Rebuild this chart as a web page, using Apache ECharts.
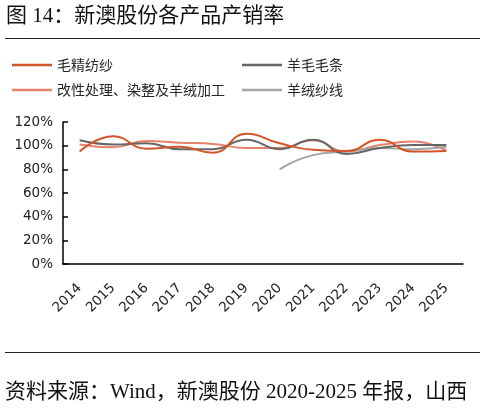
<!DOCTYPE html>
<html><head><meta charset="utf-8">
<script src="https://cdn.jsdelivr.net/npm/echarts@6/dist/echarts.min.js"></script>
<style>html,body{margin:0;padding:0;background:#fff}#c{width:485px;height:408px}</style>
</head><body><div id="c"></div>
<script>
var titleText = '图 14：新澳股份各产品产销率';
var sourceText = '资料来源：Wind，新澳股份 2020-2025 年报，山西';
var years = ['2014','2015','2016','2017','2018','2019','2020','2021','2022','2023','2024','2025'];
var seriesNames = ['毛精纺纱','羊毛毛条','改性处理、染整及羊绒加工','羊绒纱线'];
var maoJingFangSha = [95, 108, 97.5, 99, 94, 110, 102, 96.5, 95.5, 105, 95, 95.5];
var yangMaoMaoTiao = [104.5, 101, 102, 97, 97, 105, 97, 105, 93, 98, 100.5, 100.5];
var gaiXingJiaGong = [101, 98.6, 104, 102.5, 101.5, 98, 98, 104.5, 95, 100.5, 103.5, 96];
var yangRongShaXian = [null, null, null, null, null, null, 80, 92, 95, 98, 97, 99];
var yTicks = {min: 0, max: 120, interval: 20};

var colors = ['#D4552A', '#666666', '#E8806A', '#A6A6A6'];
var chart = echarts.init(document.getElementById('c'), null, {renderer: 'canvas'});
var cjk = '"Liberation Serif","Noto Sans CJK SC",serif';
var sansCjk = '"Noto Sans CJK SC","Liberation Sans",sans-serif';
function mk(name, data, color, z) {
  return {name: name, type: 'line', data: data, smooth: 0.5, symbol: 'none', showSymbol: false, z: z,
    connectNulls: false, lineStyle: {color: color, width: 2}, itemStyle: {color: color}};
}
var legendCommon = {orient: 'vertical', top: 58, itemWidth: 40, itemHeight: 2.5, itemGap: 11, icon: 'rect', padding: 0,
  textStyle: {fontFamily: sansCjk, fontSize: 14, lineHeight: 14, color: '#262626'}};
chart.setOption({
  animation: false,
  color: colors,
  grid: {left: 63, right: 22, top: 122, bottom: 144, containLabel: false},
  graphic: [
    {type: 'text', left: 6, top: 6, style: {text: titleText, font: '21px ' + cjk, fill: '#111'}},
    {type: 'line', shape: {x1: 5, y1: 38.5, x2: 480, y2: 38.5}, style: {stroke: '#222', lineWidth: 1.2}},
    {type: 'line', shape: {x1: 5, y1: 352.5, x2: 480, y2: 352.5}, style: {stroke: '#222', lineWidth: 1.2}},
    {type: 'text', left: 5, top: 382, style: {text: sourceText, font: '21px ' + cjk, fill: '#111'}}
  ],
  legend: [
    Object.assign({data: [seriesNames[0], seriesNames[2]], left: 12}, legendCommon),
    Object.assign({data: [seriesNames[1], seriesNames[3]], left: 242}, legendCommon)
  ],
  xAxis: {type: 'category', data: years, boundaryGap: true,
    axisLine: {lineStyle: {color: '#000', width: 1.5}},
    axisTick: {inside: true, length: 5, lineStyle: {color: '#000', width: 1.5}},
    axisLabel: {rotate: 45, margin: 22, fontFamily: '"DejaVu Sans",sans-serif', fontSize: 13.5, color: '#222', interval: 0},
    splitLine: {show: false}},
  yAxis: {type: 'value', min: yTicks.min, max: yTicks.max, interval: yTicks.interval,
    axisLine: {show: true, lineStyle: {color: '#000', width: 1.5}},
    axisTick: {show: true, inside: true, length: 5, lineStyle: {color: '#000', width: 1.5}},
    axisLabel: {formatter: '{value}%', margin: 10, fontFamily: '"DejaVu Sans",sans-serif', fontSize: 13.5, color: '#222'},
    splitLine: {show: false}},
  series: [
    mk(seriesNames[2], gaiXingJiaGong, colors[2], 2),
    mk(seriesNames[3], yangRongShaXian, colors[3], 3),
    mk(seriesNames[1], yangMaoMaoTiao, colors[1], 4),
    mk(seriesNames[0], maoJingFangSha, colors[0], 5)
  ]
});
</script></body></html>
